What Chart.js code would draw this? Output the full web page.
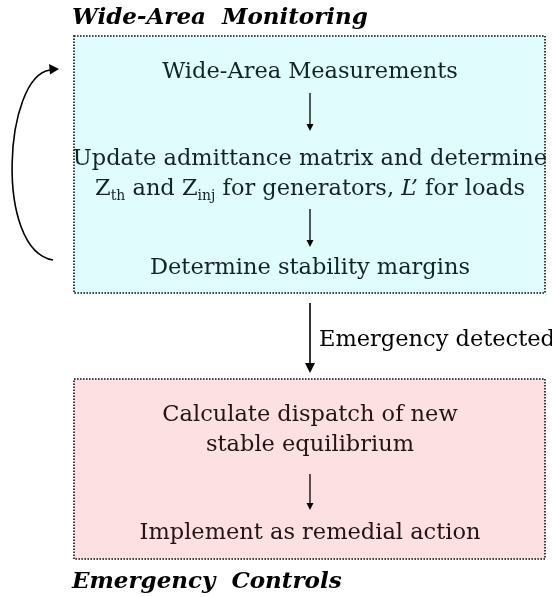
<!DOCTYPE html>
<html>
<head>
<meta charset="utf-8">
<script src="https://cdn.jsdelivr.net/npm/chart.js@4"></script>
<style>
  html, body { margin: 0; padding: 0; background: #fff; }
  #wrap { width: 552px; height: 597px; }
</style>
</head>
<body>
<div id="wrap"><canvas id="flow" width="552" height="597"></canvas></div>
<script>
// diagram content
const groupTitles = ['Wide-Area  Monitoring', 'Emergency  Controls'];
const monitorSteps = [
  'Wide-Area Measurements',
  'Update admittance matrix and determine',
  'Z_{th} and Z_{inj} for generators, *L’* for loads',
  'Determine stability margins'
];
const controlSteps = [
  'Calculate dispatch of new',
  'stable equilibrium',
  'Implement as remedial action'
];
const transitionLabel = 'Emergency detected';

// layout in diagram units (x 0..552, y 0..597 top-down)
const layout = {
  titleBase: [24, 588],
  boxes: [
    { x0: 74, x1: 545, y0: 36, y1: 293, fill: '#e0fcfc', ink: '#142424' },
    { x0: 74, x1: 545, y0: 379, y1: 559, fill: '#fde0e2', ink: '#241416' }
  ],
  monitorBase: [78, 165, 195, 274],
  controlBase: [421, 451, 539],
  innerArrows: [[93, 131], [209, 247], [474, 510]],
  mainArrow: [303, 373],
  centerX: 310
};

const FONT = '"DejaVu Serif", "Liberation Serif", serif';
const SIZE = 22.5;

function parseRich(s) {
  // _{...} subscript, *...* italic
  const segs = [];
  let i = 0, buf = '', italic = false;
  while (i < s.length) {
    if (s[i] === '_' && s[i + 1] === '{') {
      if (buf) segs.push({ t: buf, italic });
      buf = '';
      const end = s.indexOf('}', i);
      segs.push({ t: s.slice(i + 2, end), sub: true });
      i = end + 1;
    } else if (s[i] === '*') {
      if (buf) segs.push({ t: buf, italic });
      buf = '';
      italic = !italic;
      i++;
    } else {
      buf += s[i++];
    }
  }
  if (buf) segs.push({ t: buf, italic });
  return segs;
}

function segFont(seg) {
  if (seg.sub) return Math.round(SIZE * 0.62) + 'px ' + FONT;
  return (seg.italic ? 'italic ' : '') + SIZE + 'px ' + FONT;
}

function drawRich(ctx, str, cx, base, color) {
  const segs = parseRich(str);
  let w = 0;
  segs.forEach(s => { ctx.font = segFont(s); s.w = ctx.measureText(s.t).width; w += s.w; });
  let x = cx - w / 2;
  ctx.fillStyle = color;
  ctx.textAlign = 'left';
  ctx.textBaseline = 'alphabetic';
  segs.forEach(s => {
    ctx.font = segFont(s);
    ctx.fillText(s.t, x, base + (s.sub ? 5 : 0));
    x += s.w;
  });
}

function arrow(ctx, x, y0, y1, head) {
  ctx.beginPath();
  ctx.moveTo(x, y0);
  ctx.lineTo(x, y1 - head);
  ctx.stroke();
  ctx.beginPath();
  ctx.moveTo(x - head / 2, y1 - head);
  ctx.lineTo(x + head / 2, y1 - head);
  ctx.lineTo(x, y1);
  ctx.closePath();
  ctx.fill();
}

const flowPlugin = {
  id: 'flow',
  afterDraw(chart) {
    const ctx = chart.ctx;
    const sx = v => chart.scales.x.getPixelForValue(v);
    const sy = v => chart.scales.y.getPixelForValue(v);
    ctx.save();

    // boxes
    layout.boxes.forEach(b => {
      ctx.fillStyle = b.fill;
      ctx.fillRect(sx(b.x0), sy(b.y0), sx(b.x1) - sx(b.x0), sy(b.y1) - sy(b.y0));
      ctx.strokeStyle = '#111';
      ctx.lineWidth = 1.6;
      ctx.setLineDash([1.6, 1.4]);
      ctx.strokeRect(sx(b.x0), sy(b.y0), sx(b.x1) - sx(b.x0), sy(b.y1) - sy(b.y0));
      ctx.setLineDash([]);
    });

    // group titles
    ctx.fillStyle = '#000';
    ctx.font = 'bold italic 23px ' + FONT;
    ctx.textAlign = 'left';
    groupTitles.forEach((t, i) => ctx.fillText(t, sx(layout.boxes[0].x0 - 2), sy(layout.titleBase[i])));

    // step texts
    const cx = sx(layout.centerX);
    monitorSteps.forEach((t, i) => drawRich(ctx, t, cx, sy(layout.monitorBase[i]), layout.boxes[0].ink));
    controlSteps.forEach((t, i) => drawRich(ctx, t, cx, sy(layout.controlBase[i]), layout.boxes[1].ink));

    // arrows inside boxes
    ctx.strokeStyle = '#000';
    ctx.fillStyle = '#000';
    ctx.lineWidth = 1.3;
    layout.innerArrows.forEach(a => arrow(ctx, cx, sy(a[0]), sy(a[1]), 7));

    // arrow between boxes + label
    ctx.lineWidth = 1.6;
    arrow(ctx, cx, sy(layout.mainArrow[0]), sy(layout.mainArrow[1]), 10);
    ctx.fillStyle = '#000';
    ctx.font = SIZE + 'px ' + FONT;
    ctx.textAlign = 'left';
    ctx.fillText(transitionLabel, cx + 9, sy(346));

    // feedback loop on the left
    ctx.lineWidth = 1.6;
    ctx.beginPath();
    ctx.moveTo(sx(53), sy(260));
    ctx.bezierCurveTo(sx(-6), sy(250), sx(4), sy(76), sx(50), sy(70));
    ctx.stroke();
    ctx.beginPath();
    ctx.moveTo(sx(59), sy(69));
    ctx.lineTo(sx(49), sy(64));
    ctx.lineTo(sx(50), sy(74.5));
    ctx.closePath();
    ctx.fill();

    ctx.restore();
  }
};

new Chart(document.getElementById('flow'), {
  type: 'scatter',
  data: { datasets: [{ data: [] }] },
  options: {
    responsive: false,
    animation: false,
    layout: { padding: 0 },
    plugins: { legend: { display: false }, tooltip: { enabled: false } },
    scales: {
      x: { type: 'linear', min: 0, max: 552, display: false },
      y: { type: 'linear', min: 0, max: 597, reverse: true, display: false }
    }
  },
  plugins: [flowPlugin]
});
</script>
</body>
</html>
